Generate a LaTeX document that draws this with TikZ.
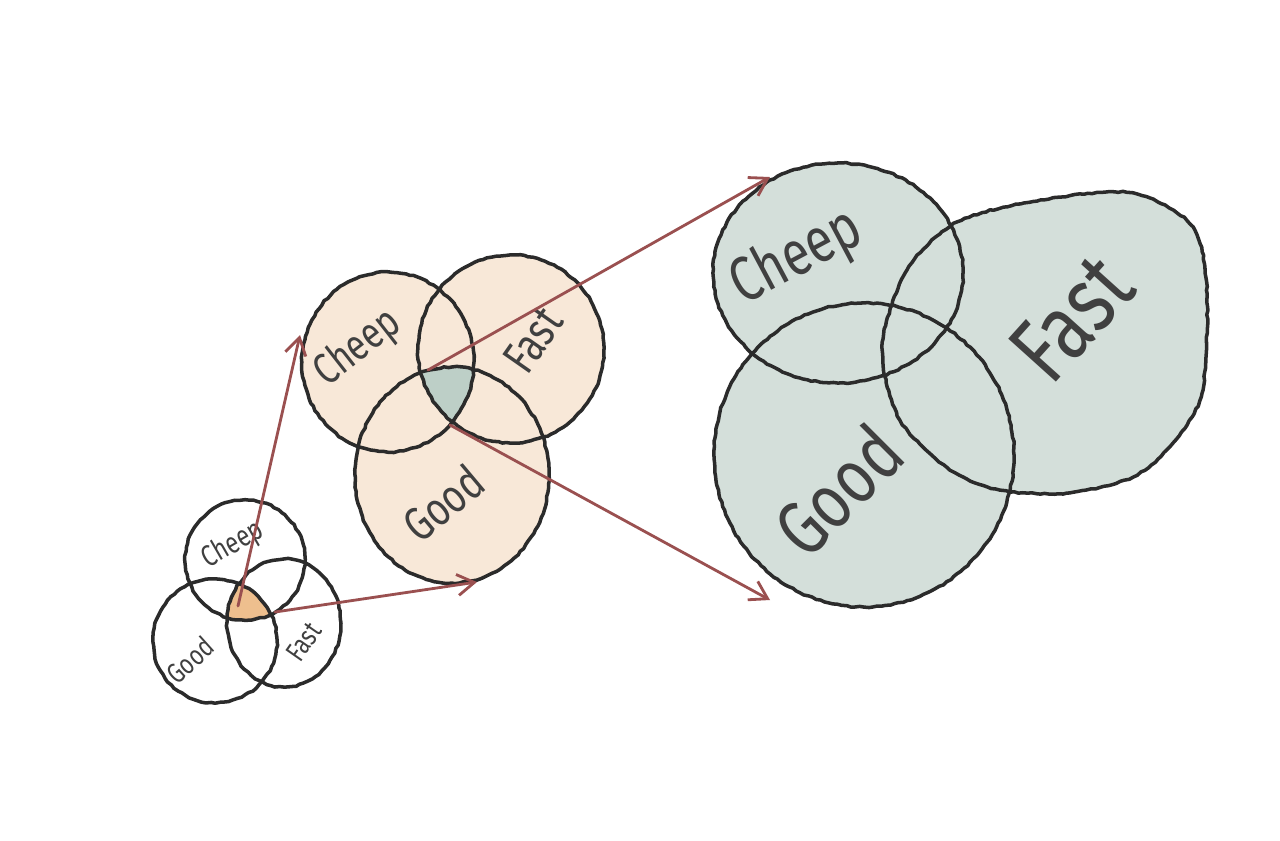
\documentclass[tikz,border=0pt]{standalone}
\usepackage{fontspec}
\usepackage{tikz}
\usetikzlibrary{arrows.meta,decorations.pathmorphing}
\newfontfamily\handfont[FakeStretch=0.78]{Fira Sans}
\definecolor{VnInk}{HTML}{2B2B2B}
\definecolor{VnArrow}{HTML}{9A5050}
\definecolor{VnPeach}{HTML}{F8E8D8}
\definecolor{VnOrange}{HTML}{EEBF8E}
\definecolor{VnSage}{HTML}{BDCFC7}
\definecolor{VnMist}{HTML}{D4DFDA}
\tikzset{
  vnpencil/.style={
    draw=VnInk,
    line width=2pt,
    line join=round,
    decorate,
    decoration={random steps,segment length=2.5pt,amplitude=0.4pt}
  },
  vnarrow/.style={-{Straight Barb[length=3.4mm,width=4.2mm]},line width=1.6pt,draw=VnArrow,line cap=round},
  vnlabel/.style={text=VnInk!90,inner sep=0pt},
  % small diagram
  sCheep/.style={insert path={(245,560) ellipse [x radius=60,y radius=60]}},
  sGood/.style={insert path={(215,641) ellipse [x radius=62,y radius=62]}},
  sFast/.style={insert path={(284,623) ellipse [x radius=57,y radius=64]}},
  % middle diagram
  mCheep/.style={insert path={(388,362) ellipse [x radius=86,y radius=90]}},
  mFast/.style={insert path={(511,349) ellipse [x radius=93,y radius=94]}},
  mGood/.style={insert path={(452,475) ellipse [x radius=97,y radius=108]}},
  % large diagram
  lCheep/.style={insert path={(838,273) ellipse [x radius=125,y radius=110]}},
  lGood/.style={insert path={(864,455) ellipse [x radius=150,y radius=152]}},
  lFast/.style={insert path={plot[smooth cycle] coordinates {
    (957,222) (1040,200) (1133,193) (1193,227) (1207,293) (1202,393)
    (1173,443) (1133,477) (1067,493) (1000,490) (950,470) (900,420)
    (882,347) (907,270)}}},
}

\begin{document}
\begin{tikzpicture}[x=0.02cm,y=-0.02cm]
  \useasboundingbox (0,0) rectangle (1280,840);

  % fills
  \fill[VnPeach,mCheep];
  \fill[VnPeach,mFast];
  \fill[VnPeach,mGood];
  \fill[VnMist,lCheep];
  \fill[VnMist,lFast];
  \fill[VnMist,lGood];

  \begin{scope}
    \clip[sCheep]; \clip[sGood];
    \fill[VnOrange,sFast];
  \end{scope}
  \begin{scope}
    \clip[mCheep]; \clip[mFast];
    \fill[VnSage,mGood];
  \end{scope}

  % outlines
  \foreach \ring in {sCheep,sGood,sFast,mCheep,mFast,mGood,lCheep,lFast,lGood}
    \draw[vnpencil,\ring];

  % labels
  \node[vnlabel,rotate=30,font={\handfont\fontsize{17pt}{17pt}\selectfont}] (sCheepTxt) at (233,545) {Cheep};
  \node[vnlabel,rotate=42,font={\handfont\fontsize{16pt}{16pt}\selectfont}] (sGoodTxt) at (190,660) {Good};
  \node[vnlabel,rotate=55,font={\handfont\fontsize{16pt}{16pt}\selectfont}] (sFastTxt) at (304,642) {Fast};

  \node[vnlabel,rotate=38,font={\handfont\fontsize{25pt}{25pt}\selectfont}] (mCheepTxt) at (358,348) {Cheep};
  \node[vnlabel,rotate=55,font={\handfont\fontsize{27pt}{27pt}\selectfont}] (mFastTxt) at (533,340) {Fast};
  \node[vnlabel,rotate=40,font={\handfont\fontsize{27pt}{27pt}\selectfont}] (mGoodTxt) at (443,503) {Good};

  \node[vnlabel,rotate=28,font={\handfont\fontsize{36pt}{36pt}\selectfont}] (lCheepTxt) at (797,258) {Cheep};
  \node[vnlabel,rotate=48,font={\handfont\fontsize{53pt}{53pt}\selectfont}] (lFastTxt) at (1072,318) {Fast};
  \node[vnlabel,rotate=45,font={\handfont\fontsize{44pt}{44pt}\selectfont}] (lGoodTxt) at (838,490) {Good};

  % arrow ends
  \coordinate (sCore) at (238,606);
  \coordinate (sCoreR) at (275,612);
  \coordinate (mCore) at (428,370);
  \coordinate (mCoreB) at (450,425);
  \coordinate (mCheepIn) at (300,335);
  \coordinate (mGoodIn) at (477,582);
  \coordinate (lCheepIn) at (770,177);
  \coordinate (lGoodIn) at (770,600);

  \draw[vnarrow] (sCore) -- (mCheepIn);
  \draw[vnarrow] (sCoreR) -- (mGoodIn);
  \draw[vnarrow] (mCore) -- (lCheepIn);
  \draw[vnarrow] (mCoreB) -- (lGoodIn);
\end{tikzpicture}
\end{document}
